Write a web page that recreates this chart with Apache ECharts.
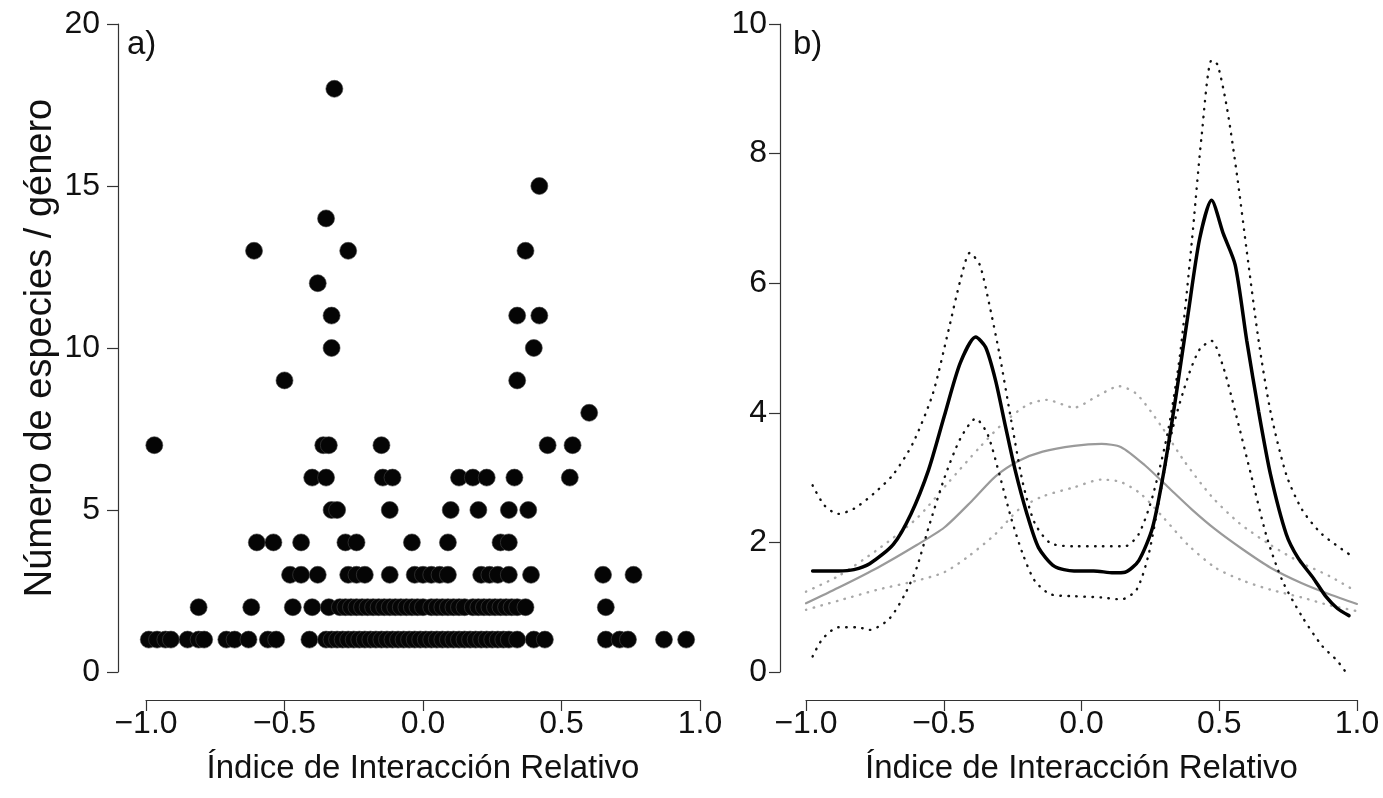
<!DOCTYPE html>
<html><head><meta charset="utf-8">
<script src="https://cdn.jsdelivr.net/npm/echarts@6/dist/echarts.min.js"></script>
<style>html,body{margin:0;padding:0;background:#fff}#c{width:1383px;height:798px}</style>
</head><body><div id="c"></div>
<script>
// ---- Panel a: x values (Índice de Interacción Relativo) for each y level ----
const xAtY1 = [-0.99,-0.96,-0.93,-0.91,-0.85,-0.81,-0.79,-0.71,-0.68,-0.63,-0.56,-0.53,-0.41,
  -0.35,-0.33,-0.31,-0.29,-0.27,-0.25,-0.23,-0.21,-0.19,-0.17,-0.15,-0.13,-0.11,-0.09,-0.07,-0.05,-0.03,-0.01,
  0.01,0.03,0.05,0.07,0.09,0.11,0.13,0.15,0.17,0.19,0.21,0.23,0.25,0.27,0.29,0.31,0.34,0.40,0.44,
  0.66,0.71,0.74,0.87,0.95];
const xAtY2 = [-0.81,-0.62,-0.47,-0.40,-0.34,-0.30,-0.28,-0.26,-0.24,-0.22,-0.20,-0.18,-0.16,-0.14,-0.12,-0.10,
  -0.08,-0.06,-0.04,-0.02,0.00,0.03,0.05,0.07,0.09,0.11,0.13,0.15,0.18,0.20,0.22,0.24,0.26,0.28,0.30,0.32,0.34,0.37,0.66];
const xAtY3 = [-0.48,-0.44,-0.38,-0.27,-0.24,-0.21,-0.12,-0.03,0.00,0.03,0.06,0.09,0.21,0.24,0.27,0.31,0.39,0.65,0.76];
const xAtY4 = [-0.60,-0.54,-0.44,-0.28,-0.24,-0.04,0.09,0.28,0.31];
const xAtY5 = [-0.33,-0.31,-0.12,0.10,0.20,0.31,0.38];
const xAtY6 = [-0.40,-0.35,-0.145,-0.11,0.13,0.18,0.23,0.33,0.53];
const xAtY7 = [-0.97,-0.36,-0.34,-0.15,0.45,0.54];
const xAtY8 = [0.60];
const xAtY9 = [-0.50,0.34];
const xAtY10 = [-0.33,0.40];
const xAtY11 = [-0.33,0.34,0.42];
const xAtY12 = [-0.38];
const xAtY13 = [-0.61,-0.27,0.37];
const xAtY14 = [-0.35];
const xAtY15 = [0.42];
const xAtY18 = [-0.32];
const levels = [[1,xAtY1],[2,xAtY2],[3,xAtY3],[4,xAtY4],[5,xAtY5],[6,xAtY6],[7,xAtY7],[8,xAtY8],
  [9,xAtY9],[10,xAtY10],[11,xAtY11],[12,xAtY12],[13,xAtY13],[14,xAtY14],[15,xAtY15],[18,xAtY18]];

// ---- Panel b: curves [x, y] ----
const blackSolid = [[-0.976,1.56],[-0.883,1.56],[-0.826,1.58],[-0.769,1.67],[-0.683,1.97],[-0.619,2.44],[-0.555,3.12],
  [-0.498,3.95],[-0.44,4.77],[-0.384,5.17],[-0.348,5.01],[-0.312,4.50],[-0.277,3.81],[-0.241,3.12],[-0.198,2.44],
  [-0.156,1.92],[-0.098,1.63],[-0.027,1.56],[0.044,1.56],[0.116,1.53],[0.158,1.54],[0.208,1.72],[0.258,2.23],
  [0.30,3.12],[0.344,4.29],[0.387,5.53],[0.429,6.69],[0.472,7.28],[0.515,6.76],[0.558,6.28],[0.60,5.11],
  [0.643,4.02],[0.686,3.05],[0.743,2.13],[0.786,1.76],[0.843,1.44],[0.886,1.17],[0.929,0.98],[0.971,0.87]];
const blackUpper = [[-0.976,2.88],[-0.933,2.57],[-0.883,2.44],[-0.826,2.52],[-0.755,2.75],[-0.683,3.05],[-0.612,3.53],
  [-0.54,4.29],[-0.484,5.25],[-0.44,6.04],[-0.405,6.47],[-0.369,6.28],[-0.334,5.66],[-0.298,4.91],[-0.255,3.88],
  [-0.213,2.92],[-0.17,2.30],[-0.113,1.99],[-0.027,1.94],[0.073,1.94],[0.158,1.94],[0.208,2.13],[0.258,2.71],
  [0.315,3.74],[0.358,4.91],[0.40,6.62],[0.436,8.27],[0.472,9.44],[0.494,9.37],[0.529,8.68],[0.565,7.65],
  [0.60,6.49],[0.643,5.11],[0.686,4.02],[0.743,3.05],[0.80,2.51],[0.872,2.13],[0.971,1.82]];
const blackLower = [[-0.976,0.24],[-0.94,0.51],[-0.883,0.69],[-0.812,0.69],[-0.769,0.65],[-0.698,0.82],[-0.641,1.20],
  [-0.598,1.61],[-0.555,2.23],[-0.498,2.99],[-0.44,3.60],[-0.384,3.91],[-0.341,3.67],[-0.298,3.05],[-0.255,2.37],
  [-0.213,1.82],[-0.17,1.41],[-0.113,1.20],[-0.027,1.17],[0.073,1.15],[0.144,1.12],[0.20,1.27],[0.244,1.82],
  [0.287,2.78],[0.33,3.74],[0.387,4.56],[0.429,4.98],[0.472,5.11],[0.515,4.70],[0.558,4.02],[0.615,3.05],
  [0.672,2.09],[0.729,1.41],[0.80,0.86],[0.872,0.41],[0.929,0.17],[0.964,-0.03]];
const graySolid = [[-1.0,1.06],[-0.883,1.30],[-0.74,1.61],[-0.598,1.96],[-0.498,2.23],[-0.398,2.64],[-0.312,3.02],
  [-0.227,3.26],[-0.141,3.40],[-0.027,3.49],[0.073,3.52],[0.144,3.47],[0.23,3.19],[0.315,2.85],[0.40,2.51],
  [0.486,2.20],[0.586,1.89],[0.686,1.61],[0.80,1.37],[0.90,1.20],[1.0,1.05]];
const grayUpper = [[-1.0,1.24],[-0.883,1.48],[-0.74,1.89],[-0.598,2.37],[-0.484,2.92],[-0.369,3.47],[-0.284,3.84],
  [-0.198,4.12],[-0.127,4.20],[-0.027,4.08],[0.058,4.26],[0.137,4.41],[0.20,4.29],[0.287,3.81],[0.372,3.26],
  [0.472,2.71],[0.572,2.30],[0.686,1.96],[0.80,1.68],[0.90,1.48],[0.986,1.27]];
const grayLower = [[-1.0,0.96],[-0.883,1.10],[-0.74,1.27],[-0.598,1.41],[-0.498,1.54],[-0.412,1.78],[-0.312,2.13],
  [-0.227,2.51],[-0.141,2.71],[-0.027,2.85],[0.073,2.97],[0.144,2.93],[0.215,2.75],[0.30,2.37],[0.387,1.96],
  [0.486,1.61],[0.586,1.41],[0.686,1.27],[0.80,1.15],[0.90,1.03],[1.0,0.94]];

const xTicksMin = -1, xTicksMax = 1, xTickStep = 0.5;
const xTitle = 'Índice de Interacción Relativo';
const yTitleA = 'Número de especies / género';

const FONT = 'Liberation Sans, Arial, Helvetica, sans-serif';
const axisCol = '#333';
const fmtX = v => v.toFixed(1).replace('-', '\u2212');

const scatterData = [];
levels.forEach(([y, xs]) => xs.forEach(x => scatterData.push([x, y])));

function xAxisDef(gi) {
  return {
    type: 'value', gridIndex: gi, min: xTicksMin, max: xTicksMax, interval: xTickStep, offset: 28,
    axisLine: {show: true, onZero: false, lineStyle: {color: axisCol, width: 1.2}},
    axisTick: {show: true, length: 11, lineStyle: {color: axisCol, width: 1.2}},
    axisLabel: {formatter: fmtX, fontSize: 32, color: '#111', fontFamily: FONT, margin: 8},
    splitLine: {show: false},
    name: xTitle, nameLocation: 'middle', nameGap: 52,
    nameTextStyle: {fontSize: 33, color: '#111', fontFamily: FONT}
  };
}
function yAxisDef(gi, max, step, offset, name, margin) {
  return {
    type: 'value', gridIndex: gi, min: 0, max: max, interval: step, offset: offset,
    axisLine: {show: true, onZero: false, lineStyle: {color: axisCol, width: 1.2}},
    axisTick: {show: true, length: 11, lineStyle: {color: axisCol, width: 1.2}},
    axisLabel: {fontSize: 32, color: '#111', fontFamily: FONT, margin: margin},
    splitLine: {show: false},
    name: name || '', nameLocation: 'middle', nameGap: 58,
    nameTextStyle: {fontSize: 38, color: '#111', fontFamily: FONT}
  };
}
const dotted = [0.5, 7.5];
function line(data, color, width, type) {
  return {type: 'line', xAxisIndex: 1, yAxisIndex: 1, data: data, smooth: 0.25, symbol: 'none', clip: false,
    lineStyle: {color: color, width: width, type: type, cap: 'round'}, silent: true, z: 3};
}

const chart = echarts.init(document.getElementById('c'), null, {renderer: 'canvas'});
chart.setOption({
  backgroundColor: '#fff',
  animation: false,
  title: [
    {text: 'a)', left: 127, top: 28, padding: 0, textStyle: {fontSize: 33, fontWeight: 'normal', color: '#111', fontFamily: FONT}},
    {text: 'b)', left: 793, top: 28, padding: 0, textStyle: {fontSize: 33, fontWeight: 'normal', color: '#111', fontFamily: FONT}}
  ],
  grid: [
    {left: 146, top: 24, width: 554, height: 648},
    {left: 806, top: 24, width: 551, height: 648}
  ],
  xAxis: [xAxisDef(0), xAxisDef(1)],
  yAxis: [yAxisDef(0, 20, 5, 28, yTitleA, 18), yAxisDef(1, 10, 2, 26, '', 13)],
  series: [
    {type: 'scatter', xAxisIndex: 0, yAxisIndex: 0, data: scatterData, symbol: 'circle', symbolSize: 17, clip: false,
      itemStyle: {color: '#050505', borderColor: '#444', borderWidth: 0.6, opacity: 1}, silent: true},
    line(grayUpper, '#a8a8a8', 2.4, dotted),
    line(grayLower, '#a8a8a8', 2.4, dotted),
    line(graySolid, '#9a9a9a', 2.2, 'solid'),
    line(blackUpper, '#111', 2.4, dotted),
    line(blackLower, '#111', 2.4, dotted),
    line(blackSolid, '#000', 3.5, 'solid')
  ]
});
</script></body></html>
